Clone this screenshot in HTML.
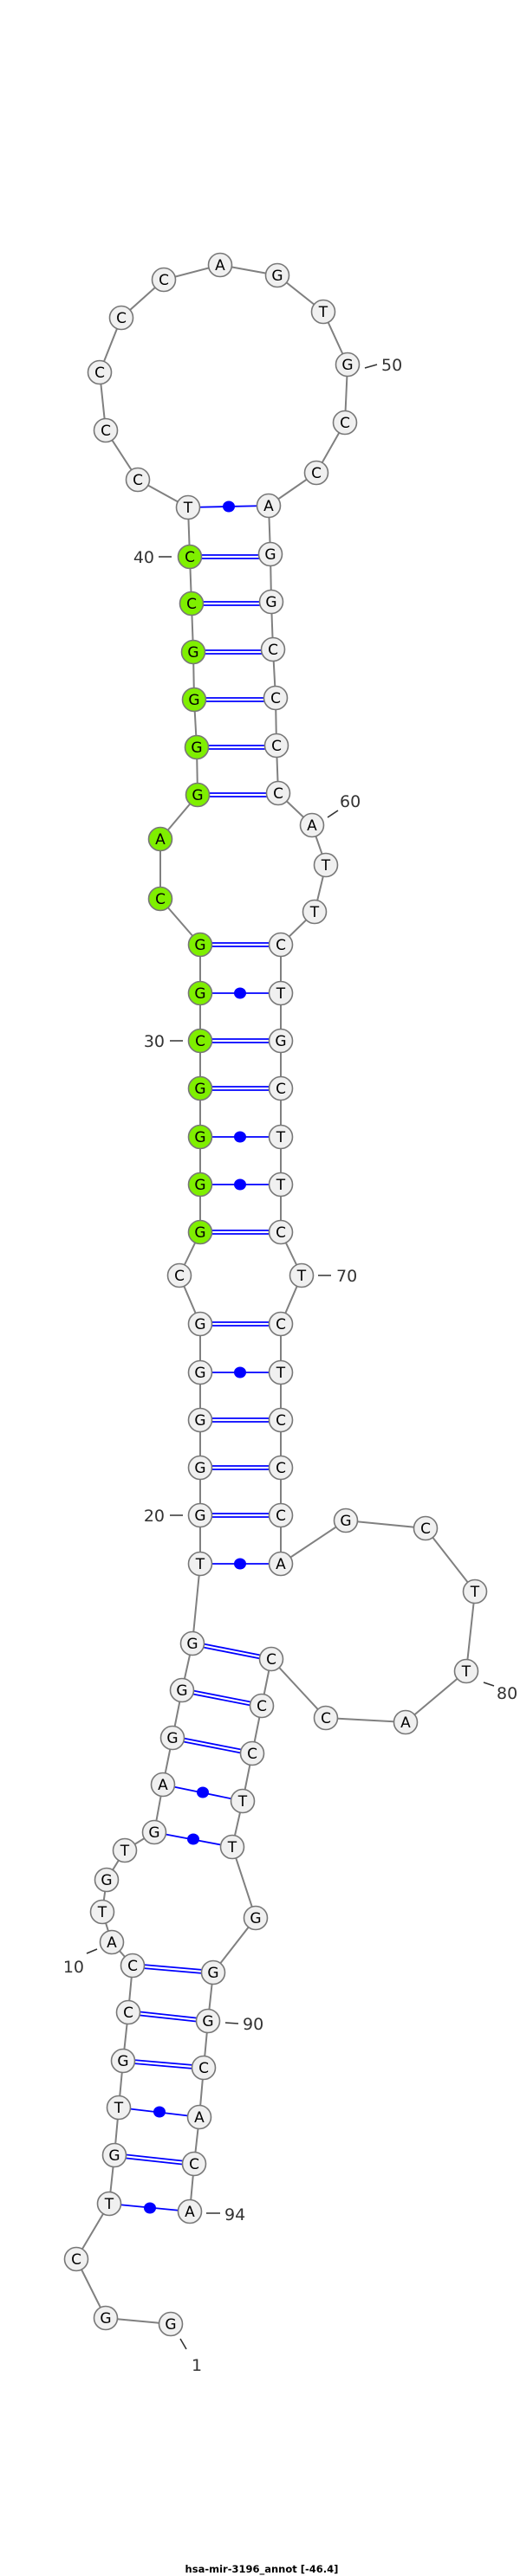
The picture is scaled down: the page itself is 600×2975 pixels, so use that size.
<!DOCTYPE html>
<html><head><meta charset="utf-8"><style>
html,body{margin:0;padding:0;background:#fff;}
svg{display:block}
.n circle{fill:#f0f0f0;stroke:#777;stroke-width:1.6}
.n circle.g{fill:#7fef00}
.n text{font-family:"DejaVu Sans","Liberation Sans",sans-serif;font-size:17px;text-anchor:middle;fill:#000}
.lb{font-family:"DejaVu Sans","Liberation Sans",sans-serif;font-size:19px;fill:#333}
</style></head><body>
<svg width="600" height="2975" viewBox="0 0 600 2975" xmlns="http://www.w3.org/2000/svg">
<polyline fill="none" stroke="#808080" stroke-width="2" points="197,2684 122,2677 88,2609 126,2545 132,2489 137,2434 142,2380 148,2324 153,2270 129,2243 118,2208 123,2171 144,2137 178,2116 188,2061 199,2007 210,1952 222,1898 231,1806 231,1753 231,1695 231,1640 231,1585 231,1529 207,1473 231,1423 231,1368 231,1313 231,1257 231,1202 231,1147 231,1091 185,1038 185,969 228,918 227,863 224,808 223,753 221,697 219,643 217,586 159,554 122,497 115,430 140,367 189,323 254,306 320,318 373,360 401,421 398,488 365,546 310,584 312,640 313,695 315,750 318,806 319,861 321,916 360,953 376,999 363,1053 324,1091 324,1147 324,1202 324,1257 324,1313 324,1368 324,1423 348,1473 324,1529 324,1585 324,1640 324,1695 324,1750 324,1806 399,1756 491,1765 548,1838 538,1930 468,1989 376,1984 313,1916 302,1970 291,2025 280,2080 268,2133 295,2215 246,2278 240,2334 235,2388 230,2445 224,2499 219,2554"/>
<g stroke="#0000ff" stroke-width="1.8" fill="none">
<!-- double -->
<path d="M219,641H312M219,645H312 M221,695H313M221,699H313 M223,751H315M223,755H315 M224,806H318M224,810H318 M227,861H319M227,865H319 M228,916H321M228,920H321"/>
<path d="M231,1089H324M231,1093H324 M231,1200H324M231,1204H324 M231,1255H324M231,1259H324 M231,1421H324M231,1425H324"/>
<path d="M231,1527H324M231,1531H324 M231,1638H324M231,1642H324 M231,1693H324M231,1697H324 M231,1748H324M231,1752H324"/>
<path d="M222,1896L313,1914M222,1900L313,1918 M210,1950L302,1968M210,1954L302,1972 M199,2005L291,2023M199,2009L291,2027"/>
<path d="M153,2268L246,2276M153,2272L246,2280 M148,2322L240,2332M148,2326L240,2336 M142,2378L235,2386M142,2382L235,2390 M132,2487L224,2497M132,2491L224,2501"/>
<!-- single -->
<path d="M217,586L310,584 M231,1147H324 M231,1313H324 M231,1368H324 M231,1585H324 M231,1806H324 M188,2061L280,2080 M178,2116L268,2133 M137,2434L230,2445 M126,2545L219,2554"/>
</g>
<g fill="#0000ff">
<ellipse cx="264" cy="585" rx="7" ry="6.5"/><ellipse cx="277" cy="1147" rx="7" ry="6.5"/><ellipse cx="277" cy="1313" rx="7" ry="6.5"/><ellipse cx="277" cy="1368" rx="7" ry="6.5"/><ellipse cx="277" cy="1585" rx="7" ry="6.5"/><ellipse cx="277" cy="1806" rx="7" ry="6.5"/><ellipse cx="234" cy="2070" rx="7" ry="6.5"/><ellipse cx="223" cy="2124" rx="7" ry="6.5"/><ellipse cx="184" cy="2439" rx="7" ry="6.5"/><ellipse cx="173" cy="2550" rx="7" ry="6.5"/>
</g>
<g class="n">
<circle cx="197" cy="2684" r="13.5"/><text x="197" y="2690">G</text>
<circle cx="122" cy="2677" r="13.5"/><text x="122" y="2683">G</text>
<circle cx="88" cy="2609" r="13.5"/><text x="88" y="2615">C</text>
<circle cx="126" cy="2545" r="13.5"/><text x="126" y="2551">T</text>
<circle cx="132" cy="2489" r="13.5"/><text x="132" y="2495">G</text>
<circle cx="137" cy="2434" r="13.5"/><text x="137" y="2440">T</text>
<circle cx="142" cy="2380" r="13.5"/><text x="142" y="2386">G</text>
<circle cx="148" cy="2324" r="13.5"/><text x="148" y="2330">C</text>
<circle cx="153" cy="2270" r="13.5"/><text x="153" y="2276">C</text>
<circle cx="129" cy="2243" r="13.5"/><text x="129" y="2249">A</text>
<circle cx="118" cy="2208" r="13.5"/><text x="118" y="2214">T</text>
<circle cx="123" cy="2171" r="13.5"/><text x="123" y="2177">G</text>
<circle cx="144" cy="2137" r="13.5"/><text x="144" y="2143">T</text>
<circle cx="178" cy="2116" r="13.5"/><text x="178" y="2122">G</text>
<circle cx="188" cy="2061" r="13.5"/><text x="188" y="2067">A</text>
<circle cx="199" cy="2007" r="13.5"/><text x="199" y="2013">G</text>
<circle cx="210" cy="1952" r="13.5"/><text x="210" y="1958">G</text>
<circle cx="222" cy="1898" r="13.5"/><text x="222" y="1904">G</text>
<circle cx="231" cy="1806" r="13.5"/><text x="231" y="1812">T</text>
<circle cx="231" cy="1750" r="13.5"/><text x="231" y="1756">G</text>
<circle cx="231" cy="1695" r="13.5"/><text x="231" y="1701">G</text>
<circle cx="231" cy="1640" r="13.5"/><text x="231" y="1646">G</text>
<circle cx="231" cy="1585" r="13.5"/><text x="231" y="1591">G</text>
<circle cx="231" cy="1529" r="13.5"/><text x="231" y="1535">G</text>
<circle cx="207" cy="1473" r="13.5"/><text x="207" y="1479">C</text>
<circle class="g" cx="231" cy="1423" r="13.5"/><text x="231" y="1429">G</text>
<circle class="g" cx="231" cy="1368" r="13.5"/><text x="231" y="1374">G</text>
<circle class="g" cx="231" cy="1313" r="13.5"/><text x="231" y="1319">G</text>
<circle class="g" cx="231" cy="1257" r="13.5"/><text x="231" y="1263">G</text>
<circle class="g" cx="231" cy="1202" r="13.5"/><text x="231" y="1208">C</text>
<circle class="g" cx="231" cy="1147" r="13.5"/><text x="231" y="1153">G</text>
<circle class="g" cx="231" cy="1091" r="13.5"/><text x="231" y="1097">G</text>
<circle class="g" cx="185" cy="1038" r="13.5"/><text x="185" y="1044">C</text>
<circle class="g" cx="185" cy="969" r="13.5"/><text x="185" y="975">A</text>
<circle class="g" cx="228" cy="918" r="13.5"/><text x="228" y="924">G</text>
<circle class="g" cx="227" cy="863" r="13.5"/><text x="227" y="869">G</text>
<circle class="g" cx="224" cy="808" r="13.5"/><text x="224" y="814">G</text>
<circle class="g" cx="223" cy="753" r="13.5"/><text x="223" y="759">G</text>
<circle class="g" cx="221" cy="697" r="13.5"/><text x="221" y="703">C</text>
<circle class="g" cx="219" cy="643" r="13.5"/><text x="219" y="649">C</text>
<circle cx="217" cy="586" r="13.5"/><text x="217" y="592">T</text>
<circle cx="159" cy="554" r="13.5"/><text x="159" y="560">C</text>
<circle cx="122" cy="497" r="13.5"/><text x="122" y="503">C</text>
<circle cx="115" cy="430" r="13.5"/><text x="115" y="436">C</text>
<circle cx="140" cy="367" r="13.5"/><text x="140" y="373">C</text>
<circle cx="189" cy="323" r="13.5"/><text x="189" y="329">C</text>
<circle cx="254" cy="306" r="13.5"/><text x="254" y="312">A</text>
<circle cx="320" cy="318" r="13.5"/><text x="320" y="324">G</text>
<circle cx="373" cy="360" r="13.5"/><text x="373" y="366">T</text>
<circle cx="401" cy="421" r="13.5"/><text x="401" y="427">G</text>
<circle cx="398" cy="488" r="13.5"/><text x="398" y="494">C</text>
<circle cx="365" cy="546" r="13.5"/><text x="365" y="552">C</text>
<circle cx="310" cy="584" r="13.5"/><text x="310" y="590">A</text>
<circle cx="312" cy="640" r="13.5"/><text x="312" y="646">G</text>
<circle cx="313" cy="695" r="13.5"/><text x="313" y="701">G</text>
<circle cx="315" cy="750" r="13.5"/><text x="315" y="756">C</text>
<circle cx="318" cy="806" r="13.5"/><text x="318" y="812">C</text>
<circle cx="319" cy="861" r="13.5"/><text x="319" y="867">C</text>
<circle cx="321" cy="916" r="13.5"/><text x="321" y="922">C</text>
<circle cx="360" cy="953" r="13.5"/><text x="360" y="959">A</text>
<circle cx="376" cy="999" r="13.5"/><text x="376" y="1005">T</text>
<circle cx="363" cy="1053" r="13.5"/><text x="363" y="1059">T</text>
<circle cx="324" cy="1091" r="13.5"/><text x="324" y="1097">C</text>
<circle cx="324" cy="1147" r="13.5"/><text x="324" y="1153">T</text>
<circle cx="324" cy="1202" r="13.5"/><text x="324" y="1208">G</text>
<circle cx="324" cy="1257" r="13.5"/><text x="324" y="1263">C</text>
<circle cx="324" cy="1313" r="13.5"/><text x="324" y="1319">T</text>
<circle cx="324" cy="1368" r="13.5"/><text x="324" y="1374">T</text>
<circle cx="324" cy="1423" r="13.5"/><text x="324" y="1429">C</text>
<circle cx="348" cy="1473" r="13.5"/><text x="348" y="1479">T</text>
<circle cx="324" cy="1529" r="13.5"/><text x="324" y="1535">C</text>
<circle cx="324" cy="1585" r="13.5"/><text x="324" y="1591">T</text>
<circle cx="324" cy="1640" r="13.5"/><text x="324" y="1646">C</text>
<circle cx="324" cy="1695" r="13.5"/><text x="324" y="1701">C</text>
<circle cx="324" cy="1750" r="13.5"/><text x="324" y="1756">C</text>
<circle cx="324" cy="1806" r="13.5"/><text x="324" y="1812">A</text>
<circle cx="399" cy="1756" r="13.5"/><text x="399" y="1762">G</text>
<circle cx="491" cy="1765" r="13.5"/><text x="491" y="1771">C</text>
<circle cx="548" cy="1838" r="13.5"/><text x="548" y="1844">T</text>
<circle cx="538" cy="1930" r="13.5"/><text x="538" y="1936">T</text>
<circle cx="468" cy="1989" r="13.5"/><text x="468" y="1995">A</text>
<circle cx="376" cy="1984" r="13.5"/><text x="376" y="1990">C</text>
<circle cx="313" cy="1916" r="13.5"/><text x="313" y="1922">C</text>
<circle cx="302" cy="1970" r="13.5"/><text x="302" y="1976">C</text>
<circle cx="291" cy="2025" r="13.5"/><text x="291" y="2031">C</text>
<circle cx="280" cy="2080" r="13.5"/><text x="280" y="2086">T</text>
<circle cx="268" cy="2133" r="13.5"/><text x="268" y="2139">T</text>
<circle cx="295" cy="2215" r="13.5"/><text x="295" y="2221">G</text>
<circle cx="246" cy="2278" r="13.5"/><text x="246" y="2284">G</text>
<circle cx="240" cy="2334" r="13.5"/><text x="240" y="2340">G</text>
<circle cx="235" cy="2388" r="13.5"/><text x="235" y="2394">C</text>
<circle cx="230" cy="2445" r="13.5"/><text x="230" y="2451">A</text>
<circle cx="224" cy="2499" r="13.5"/><text x="224" y="2505">C</text>
<circle cx="219" cy="2554" r="13.5"/><text x="219" y="2560">A</text>
</g>
<g stroke="#333" stroke-width="1.6">
<path d="M183,643H198 M421,425L435,421 M378,944L390,936 M196,1202H211 M367,1473H382 M196,1750H211 M558,1943L570,1947 M100,2256L112,2251 M260,2336L275,2337 M238,2556H254 M208,2701L215,2713"/>
</g>
<g class="lb">
<text x="178" y="650" text-anchor="end">40</text>
<text x="440" y="428">50</text>
<text x="392" y="932">60</text>
<text x="190" y="1209" text-anchor="end">30</text>
<text x="388" y="1480">70</text>
<text x="190" y="1757" text-anchor="end">20</text>
<text x="573" y="1962">80</text>
<text x="97" y="2278" text-anchor="end">10</text>
<text x="280" y="2344">90</text>
<text x="259" y="2564">94</text>
<text x="221" y="2738">1</text>
</g>
<text x="302" y="2971" text-anchor="middle" font-family="'DejaVu Sans','Liberation Sans',sans-serif" font-weight="bold" font-size="11.5" fill="#000">hsa-mir-3196_annot [-46.4]</text>
</svg>
</body></html>
